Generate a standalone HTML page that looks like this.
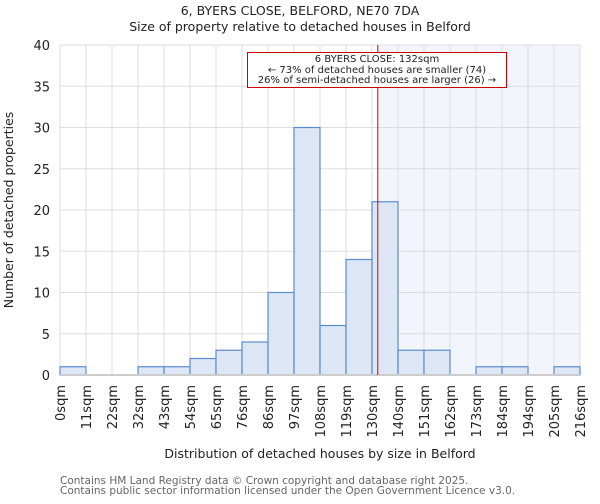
<!DOCTYPE html>
<html><head><meta charset="utf-8"><style>
body{margin:0;background:#fff;font-family:"DejaVu Sans","Liberation Sans",sans-serif}
svg text{font-family:"DejaVu Sans","Liberation Sans",sans-serif;fill:#222}
</style></head><body>
<svg id="c" width="600" height="500"></svg>
<script>
const edges=["0sqm","11sqm","22sqm","32sqm","43sqm","54sqm","65sqm","76sqm","86sqm","97sqm","108sqm","119sqm","130sqm","140sqm","151sqm","162sqm","173sqm","184sqm","194sqm","205sqm","216sqm"];
const counts=[1,0,0,1,1,2,3,4,10,30,6,14,21,3,3,0,1,1,0,1];
const yTicks=[0,5,10,15,20,25,30,35,40];
const markerValue=132;
const edgeValues=[0,10.8,21.6,32.4,43.2,54,64.8,75.6,86.4,97.2,108,118.8,129.6,140.4,151.2,162,172.8,183.6,194.4,205.2,216];
const L=60,R=580,T=45,B=375,yMax=40;
const svg=document.getElementById('c'),NS='http://www.w3.org/2000/svg';
function el(t,a,txt){const e=document.createElementNS(NS,t);for(const k in a)e.setAttribute(k,a[k]);if(txt!=null)e.textContent=txt;svg.appendChild(e);return e;}
const n=counts.length;
const x=i=>L+(R-L)*i/n;
const y=v=>B-(B-T)*v/yMax;
function xVal(v){for(let i=0;i<n;i++){if(v<=edgeValues[i+1])return x(i)+(x(i+1)-x(i))*(v-edgeValues[i])/(edgeValues[i+1]-edgeValues[i]);}return R;}
const mx=xVal(markerValue);
let e;
e=el('rect',{x:mx,y:T,width:R-mx,height:B-T,fill:'#f2f5fc'});


for(let i=0;i<=n;i++){e=el('line',{x1:x(i),x2:x(i),y1:T,y2:B,stroke:'#ddd','stroke-width':1});

}
yTicks.forEach(t=>{e=el('line',{x1:L,x2:R,y1:y(t),y2:y(t),stroke:'#ddd','stroke-width':1});


e=el('text',{x:L-10,y:y(t)+5,'text-anchor':'end','font-size':13},t);

});
counts.forEach((c,i)=>{if(c<=0)return;e=el('rect',{x:x(i),y:y(c),width:x(i+1)-x(i),height:B-y(c),fill:'#dce6f4',stroke:'#5b8bd0','stroke-width':1.2});

});
e=el('line',{x1:L,x2:R,y1:B,y2:B,stroke:'#ccc','stroke-width':2});


edges.forEach((lab,i)=>{e=el('text',{transform:`translate(${x(i)+5},385) rotate(-90)`,'text-anchor':'end','font-size':13},lab);

});
e=el('line',{x1:mx,x2:mx,y1:T,y2:B,stroke:'#dd0000','stroke-width':1});


e=el('rect',{x:247.5,y:52.5,width:259,height:35,fill:'#fff',stroke:'#cc0000','stroke-width':1});


[["6 BYERS CLOSE: 132sqm",62],["← 73% of detached houses are smaller (74)",73],["26% of semi-detached houses are larger (26) →",83]].forEach(([t,yy])=>{
e=el('text',{x:377,y:yy,'text-anchor':'middle','font-size':10},t);

});
e=el('text',{x:300,y:15,'text-anchor':'middle','font-size':12.5},'6, BYERS CLOSE, BELFORD, NE70 7DA');


e=el('text',{x:300,y:31,'text-anchor':'middle','font-size':12.5},'Size of property relative to detached houses in Belford');


e=el('text',{transform:'translate(13,210) rotate(-90)','text-anchor':'middle','font-size':12.5},'Number of detached properties');


e=el('text',{x:320,y:458,'text-anchor':'middle','font-size':12.5},'Distribution of detached houses by size in Belford');


e=el('text',{x:60,y:484,'font-size':10.5,style:'fill:#666'},'Contains HM Land Registry data © Crown copyright and database right 2025.');


e=el('text',{x:60,y:494,'font-size':10.5,style:'fill:#666'},'Contains public sector information licensed under the Open Government Licence v3.0.');


</script>
</body></html>
